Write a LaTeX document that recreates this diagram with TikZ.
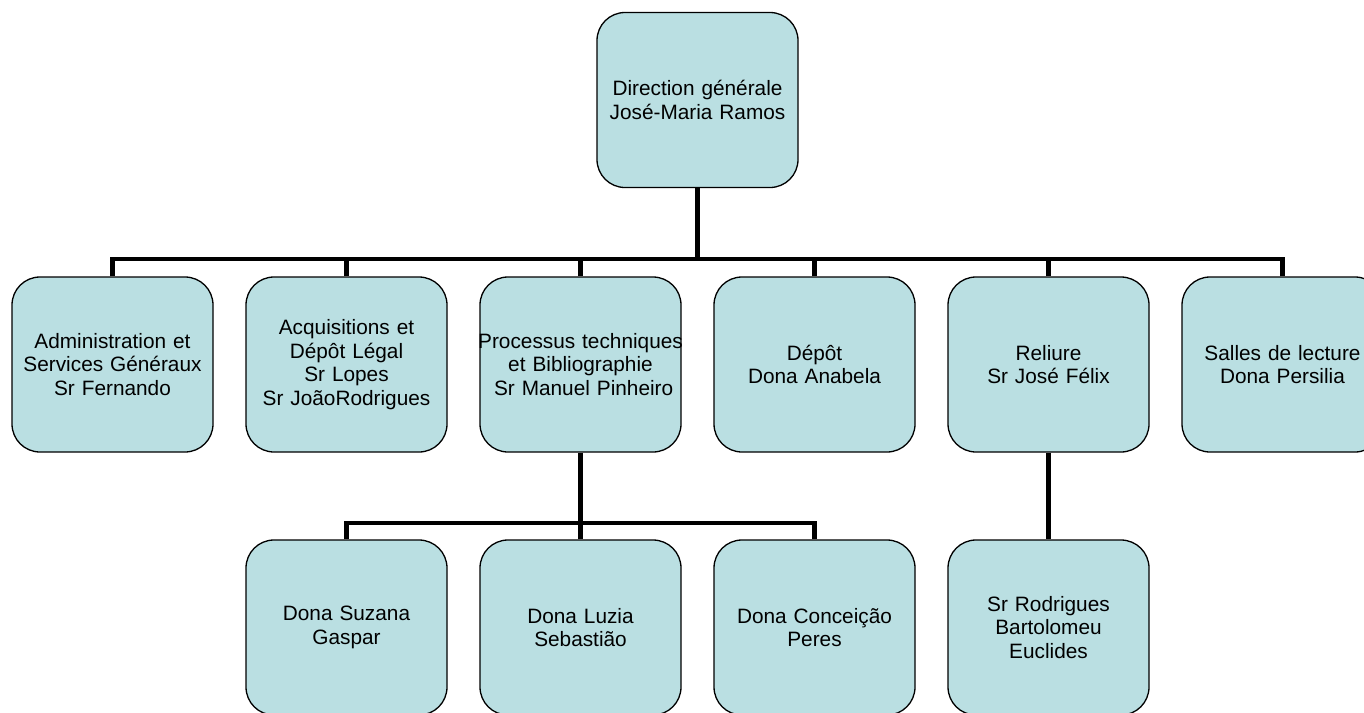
\documentclass[tikz,border=0pt]{standalone}
\usepackage{fontspec}
\setmainfont{Liberation Sans}
\definecolor{boxfill}{RGB}{186,223,226}
\begin{document}
\begin{tikzpicture}[x=1pt,y=-1pt,
  unit/.style={draw=black, line width=1.3pt, fill=boxfill, rounded corners=28pt,
    minimum width=201pt, minimum height=175pt, inner sep=0pt, text width=201pt,
    align=center, font=\fontsize{20.8}{23.5}\selectfont},
  link/.style={line width=4.5pt, line join=miter}]
\useasboundingbox (0,0) rectangle (1364,712);
\clip (0,0) rectangle (1364,712);

% head of the organisation
\node[unit] (top) at (697.5,100) {Direction générale\\José-Maria Ramos};

% departments
\node[unit] (n1) at (112.5,364.5) {Administration et\\Services Généraux\\Sr Fernando};
\node[unit] (n2) at (346.5,364.5) {Acquisitions et\\Dépôt Légal\\Sr Lopes\\Sr JoãoRodrigues};
\node[unit] (n3) at (580.5,364.5) {\makebox[0pt]{Processus techniques}\\et Bibliographie\\\hspace*{0.3em}Sr Manuel Pinheiro};
\node[unit] (n4) at (814.5,364.5) {Dépôt\\Dona Anabela};
\node[unit] (n5) at (1048.5,364.5) {Reliure\\Sr José Félix};
\node[unit] (n6) at (1282.5,364.5) {Salles de lecture\\Dona Persilia};

% staff
\node[unit] (m1) at (346.5,627.5) {Dona Suzana\\Gaspar};
\node[unit] (m2) at (580.5,627.5) {Dona Luzia\\Sebastião};
\node[unit] (m3) at (814.5,627.5) {Dona Conceição\\Peres};
\node[unit] (r1) at (1048.5,627.5) {Sr Rodrigues\\Bartolomeu\\Euclides};

% junction points of the branch lines
\coordinate (bus) at (697.5,259);
\coordinate (sub) at (580.5,523);

\draw[link] (top.south) -- (bus);
\foreach \n in {n1,n2,n3,n4,n5,n6} \draw[link] (\n.north) |- (bus);
\draw[link] (n3.south) -- (sub);
\foreach \m in {m1,m2,m3} \draw[link] (\m.north) |- (sub);
\draw[link] (n5.south) -- (r1.north);
\end{tikzpicture}
\end{document}
